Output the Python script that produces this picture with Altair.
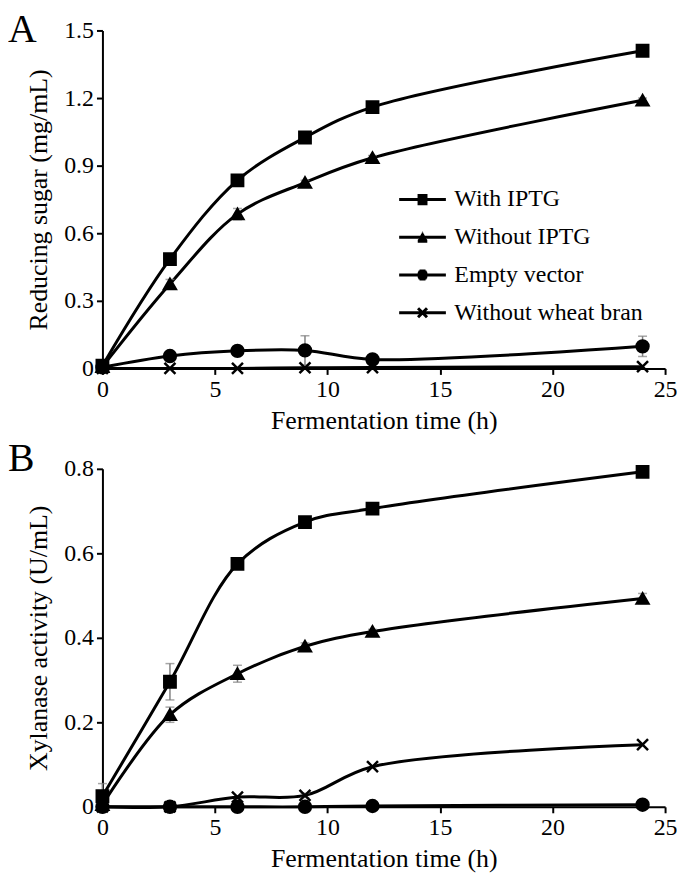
import altair as alt
import pandas as pd

# ---------------- data ----------------
times = [0, 3, 6, 9, 12, 24]
series_names = ["With IPTG", "Without IPTG", "Empty vector", "Without wheat bran"]

# Panel A: reducing sugar (mg/mL)
sugar_with = [0.012, 0.485, 0.835, 1.025, 1.160, 1.410]
sugar_without = [0.008, 0.375, 0.685, 0.825, 0.935, 1.190]
sugar_empty = [0.005, 0.055, 0.078, 0.080, 0.040, 0.098]
sugar_nobran = [0.000, 0.000, 0.000, 0.003, 0.004, 0.008]
sugar_with_err = [0.005, 0.010, 0.010, 0.010, 0.010, 0.010]
sugar_without_err = [0.005, 0.020, 0.025, 0.010, 0.010, 0.010]
sugar_empty_err = [0.002, 0.010, 0.020, 0.065, 0.010, 0.045]
sugar_nobran_err = [0.0, 0.0, 0.0, 0.0, 0.0, 0.0]

# Panel B: xylanase activity (U/mL)
xyl_with = [0.025, 0.296, 0.575, 0.674, 0.706, 0.793]
xyl_without = [0.005, 0.218, 0.315, 0.380, 0.415, 0.493]
xyl_empty = [0.000, 0.000, 0.000, 0.000, 0.002, 0.005]
xyl_nobran = [0.000, 0.000, 0.023, 0.027, 0.095, 0.147]
xyl_with_err = [0.030, 0.043, 0.010, 0.008, 0.005, 0.008]
xyl_without_err = [0.005, 0.018, 0.020, 0.008, 0.005, 0.012]
xyl_empty_err = [0.0, 0.0, 0.0, 0.0, 0.0, 0.0]
xyl_nobran_err = [0.0, 0.0, 0.0, 0.005, 0.0, 0.0]

x_ticks = [0, 5, 10, 15, 20, 25]
sugar_ticks = [0, 0.3, 0.6, 0.9, 1.2, 1.5]
xyl_ticks = [0, 0.2, 0.4, 0.6, 0.8]

FONT = "Liberation Serif"
X_PATH = "M-0.9,-0.9L0.9,0.9M-0.9,0.9L0.9,-0.9"
marker_shapes = ["square", "triangle-up", "circle", X_PATH]
marker_sizes = [130, 150, 140, 190]
LINE = "M-4.7,0H4.7"
legend_paths = [
    LINE + "M-1,-0.8H1M-1,-0.55H1M-1,-0.3H1M-1,-0.05H1M-1,0.2H1M-1,0.45H1M-1,0.7H1M-1,0.85H1",
    LINE + "M-0.06,-0.85H0.06M-0.2,-0.6H0.2M-0.33,-0.35H0.33M-0.47,-0.1H0.47"
           "M-0.6,0.15H0.6M-0.74,0.4H0.74M-0.88,0.65H0.88M-0.96,0.8H0.96",
    LINE + "M-0.6,-0.8H0.6M-0.8,-0.6H0.8M-0.92,-0.4H0.92M-0.98,-0.2H0.98M-1,0H1"
           "M-0.98,0.2H0.98M-0.92,0.4H0.92M-0.8,0.6H0.8M-0.6,0.8H0.6",
    LINE + "M-0.9,-0.9L0.9,0.9M-0.9,0.9L0.9,-0.9",
]


def build_df(vals, errs):
    rows = []
    for name, v, e in zip(series_names, vals, errs):
        for t, val, er in zip(times, v, e):
            rows.append({"time": t, "value": val, "err": er, "series": name,
                         "lo": max(val - er, 0), "hi": val + er})
    return pd.DataFrame(rows)


df_a = build_df([sugar_with, sugar_without, sugar_empty, sugar_nobran],
                [sugar_with_err, sugar_without_err, sugar_empty_err, sugar_nobran_err])
df_b = build_df([xyl_with, xyl_without, xyl_empty, xyl_nobran],
                [xyl_with_err, xyl_without_err, xyl_empty_err, xyl_nobran_err])


def legend_params():
    return alt.Legend(title=None, orient="none", legendX=310, legendY=158,
                      symbolSize=100, symbolStrokeWidth=3, symbolOpacity=1,
                      symbolStrokeColor="black",
                      labelFontSize=24, labelFont=FONT, labelColor="black",
                      labelOffset=20, rowPadding=14, labelLimit=400)


def panel(df, ytitle, ymax, yticks, letter, letter_y, with_legend):
    x = alt.X("time:Q", scale=alt.Scale(domain=[0, 25], nice=False, padding=0),
              axis=alt.Axis(values=x_ticks, title="Fermentation time (h)", labelFlush=False))
    y = alt.Y("value:Q", scale=alt.Scale(domain=[0, ymax], nice=False, padding=0),
              axis=alt.Axis(values=yticks, title=ytitle, labelFlush=False,
                            labelExpr="datum.value == 0 ? '0' : format(datum.value, '.1f')"))
    base = alt.Chart(df)
    lines = base.mark_line(interpolate="catmull-rom", color="black", strokeWidth=3).encode(
        x=x, y=y, detail="series:N")
    err_df = base.transform_filter("datum.err > 0")
    bars = err_df.mark_rule(color="#808080", strokeWidth=1.5).encode(
        x=x, y=alt.Y("lo:Q"), y2="hi:Q")
    cap_hi = err_df.mark_tick(color="#808080", orient="horizontal", size=9, thickness=1.5).encode(
        x=x, y=alt.Y("hi:Q"))
    cap_lo = err_df.mark_tick(color="#808080", orient="horizontal", size=9, thickness=1.5).encode(
        x=x, y=alt.Y("lo:Q"))
    points = base.mark_point(filled=True, fill="black", stroke="black", strokeWidth=2.5,
                             opacity=1).encode(
        x=x, y=y,
        shape=alt.Shape("series:N", scale=alt.Scale(domain=series_names, range=marker_shapes),
                        legend=None),
        size=alt.Size("series:N", scale=alt.Scale(domain=series_names, range=marker_sizes),
                      legend=None),
    )
    letter_mark = alt.Chart(pd.DataFrame({"label": [letter]})).mark_text(
        font=FONT, fontSize=40, color="black", align="left", baseline="top"
    ).encode(text="label:N", x=alt.value(-95), y=alt.value(letter_y))
    layers = [lines, bars, cap_hi, cap_lo, points, letter_mark]
    if with_legend:
        leg = base.transform_filter("false").mark_point(
            filled=False, strokeWidth=3, opacity=1).encode(
            x=x, y=y,
            shape=alt.Shape("series:N",
                            scale=alt.Scale(domain=series_names, range=legend_paths),
                            legend=legend_params()),
            color=alt.Color("series:N",
                            scale=alt.Scale(domain=series_names, range=["black"] * 4),
                            legend=legend_params()),
        )
        layers.append(leg)
    ch = alt.layer(*layers).properties(width=566, height=340)
    if with_legend:
        ch = ch.resolve_scale(shape="independent").resolve_legend(shape="independent")
    return ch


top = panel(df_a, "Reducing sugar (mg/mL)", 1.5, sugar_ticks, "A", -20, True)
bottom = panel(df_b, "Xylanase activity (U/mL)", 0.8, xyl_ticks, "B", -30, False)

chart = alt.vconcat(top, bottom, spacing=6).properties(
    padding={"left": 0, "top": 0, "right": 0, "bottom": 0}
).configure(font=FONT).configure_view(stroke=None).configure_axis(
    grid=False, domainColor="black", domainWidth=2, tickColor="black", tickWidth=2,
    tickSize=6, labelFont=FONT, titleFont=FONT, labelFontSize=24, titleFontSize=26,
    labelColor="black", titleColor="black", titleFontWeight="normal", labelPadding=3,
).configure_axisY(titlePadding=12).configure_axisX(titlePadding=6).configure_legend(
    symbolStrokeWidth=3, symbolOpacity=1, symbolBaseStrokeColor="black",
    symbolStrokeColor="black"
)

chart.save("out.html", embed_options={"renderer": "svg", "actions": False})
